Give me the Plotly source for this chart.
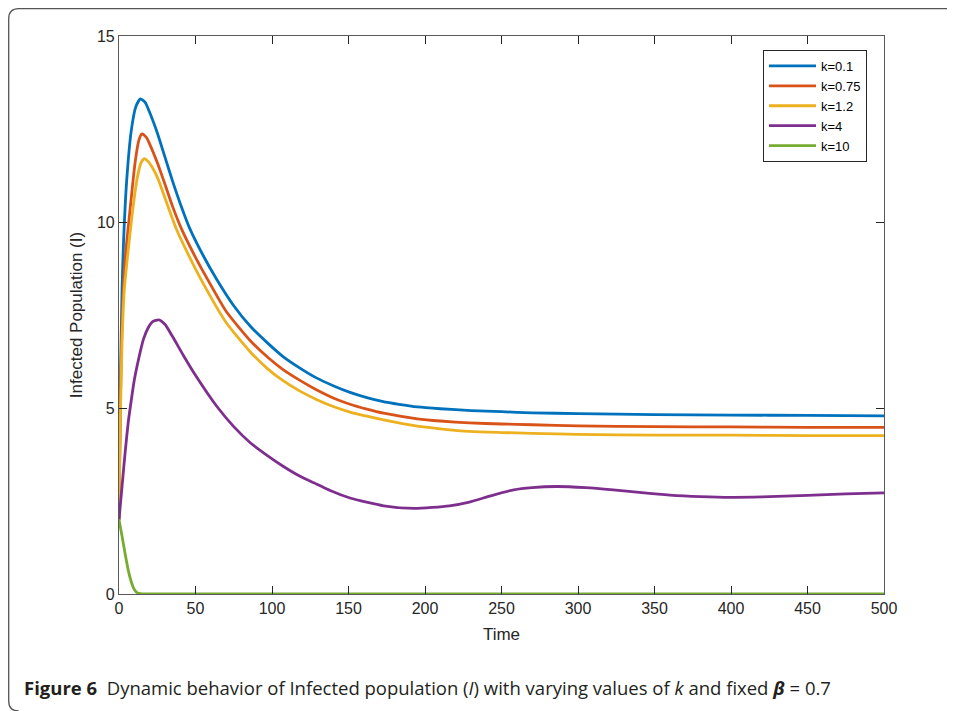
import plotly.graph_objects as go

# ---- data ----
t_blue = [0, 0.5, 1, 2, 3, 5, 8, 11, 14, 17, 20, 25, 30, 35, 40, 46, 55, 64, 75, 86, 97, 107,
          118, 129, 140, 151, 162, 172, 183, 195, 210, 230, 250, 270, 300, 350, 400, 450, 500]
I_blue = [2.0, 4.0, 5.8, 8.2, 9.5, 11.1, 12.45, 13.1, 13.31, 13.22, 12.95, 12.4, 11.75, 11.1, 10.5,
          9.85, 9.1, 8.45, 7.75, 7.19, 6.75, 6.39, 6.08, 5.81, 5.6, 5.42, 5.28, 5.18, 5.1, 5.03,
          4.98, 4.93, 4.9, 4.87, 4.85, 4.82, 4.81, 4.8, 4.79]

t_red = [0, 0.5, 1, 2, 4, 7, 10.5, 13, 15, 18, 20, 25, 29, 35, 41, 50, 58, 70, 86, 97, 107,
         118, 129, 140, 151, 162, 173, 195, 210, 229, 250, 270, 300, 350, 400, 450, 500]
I_red = [2.0, 3.8, 5.3, 7.3, 9.0, 10.24, 11.59, 12.2, 12.37, 12.27, 12.1, 11.6, 11.14, 10.42, 9.8,
         9.05, 8.45, 7.6, 6.8, 6.37, 6.04, 5.75, 5.49, 5.27, 5.1, 4.97, 4.86, 4.71, 4.65, 4.6,
         4.57, 4.55, 4.52, 4.5, 4.49, 4.48, 4.48]

t_yellow = [0, 0.5, 1, 2, 3.5, 5.4, 8.7, 12, 14.5, 16.6, 19, 22, 25.7, 30, 37.7, 45, 55, 70, 86,
            97, 107, 118, 129, 140, 151, 162, 173, 195, 210, 229, 250, 270, 300, 350, 400, 450, 500]
I_yellow = [2.0, 3.7, 5.0, 6.8, 8.2, 9.0, 10.24, 11.2, 11.6, 11.7, 11.63, 11.45, 11.14, 10.65, 9.79,
            9.15, 8.35, 7.3, 6.5, 6.06, 5.74, 5.46, 5.23, 5.04, 4.89, 4.78, 4.68, 4.51, 4.44,
            4.37, 4.34, 4.32, 4.29, 4.27, 4.27, 4.26, 4.26]

t_purple = [0, 2, 4, 6, 8, 10, 13, 16, 19, 22, 26, 30, 35, 42, 50, 64, 75, 86, 97, 107, 118, 129,
            138, 151, 173, 193, 216, 229, 243, 258, 270, 286, 305, 323, 340, 360, 380, 400, 420,
            450, 475, 500]
I_purple = [2.0, 2.9, 3.8, 4.6, 5.2, 5.75, 6.35, 6.85, 7.15, 7.32, 7.37, 7.25, 6.92, 6.42, 5.88,
            5.04, 4.5, 4.06, 3.72, 3.44, 3.17, 2.96, 2.78, 2.58, 2.37, 2.3, 2.37, 2.47, 2.64, 2.8,
            2.86, 2.89, 2.86, 2.8, 2.73, 2.66, 2.62, 2.6, 2.61, 2.65, 2.69, 2.72]

t_green = [0, 2, 4, 6, 8, 10, 12, 15, 20, 500]
I_green = [2.0, 1.55, 1.08, 0.65, 0.33, 0.12, 0.03, 0.005, 0.0, 0.0]

series = [
    ("k=0.1", t_blue, I_blue, "#0072BD"),
    ("k=0.75", t_red, I_red, "#D95319"),
    ("k=1.2", t_yellow, I_yellow, "#EDB120"),
    ("k=4", t_purple, I_purple, "#7E2F8E"),
    ("k=10", t_green, I_green, "#77AC30"),
]

x_ticks = list(range(0, 501, 50))
y_ticks = [0, 5, 10, 15]

caption = ("<b>Figure 6</b>  Dynamic behavior of Infected population (<i>I</i>) with varying "
           "values of <i>k</i> and fixed <b><i>β</i></b> = 0.7")

fig = go.Figure()
for name, t, v, c in series:
    fig.add_trace(go.Scatter(x=t, y=v, name=name, mode="lines",
                             line=dict(color=c, width=2.8, shape="spline", smoothing=0.6)))

axis_common = dict(showline=True, linecolor="#5a5a5a", linewidth=1.2, mirror="ticks",
                   ticks="inside", ticklen=8, tickcolor="#262626", tickwidth=1,
                   showgrid=False, zeroline=False,
                   tickfont=dict(family="Liberation Sans, Arial", size=16, color="#262626"),
                   title_font=dict(family="Liberation Sans, Arial", size=17, color="#262626"))

fig.update_xaxes(range=[0, 500], tickvals=x_ticks, title_text="Time", title_standoff=11,
                 **axis_common)
fig.update_yaxes(range=[0, 15], tickvals=y_ticks, title_text="Infected Population (I)",
                 title_standoff=9, **axis_common)

# the page body has an 8px margin, so the figure is placed at (8, 8) in the window
OFF = 8
W, H = 955 - OFF, 711 - OFF
PL, PR, PT, PB = 119, 884, 36, 594          # plot area in window pixels
L, T = PL - OFF, PT - OFF
R, B = W - (PR - OFF), H - (PB - OFF)
pw, ph = PR - PL, PB - PT

def px(x):
    return (x - PL) / pw

def py(y):
    return (PB - y) / ph

# rounded frame around the figure (top and left edges)
r = 10
fx, fy, fb = 8.7, 8.7, 711
path = (f"M {px(960)},{py(fy)} L {px(fx + r)},{py(fy)} Q {px(fx)},{py(fy)} {px(fx)},{py(fy + r)} "
        f"L {px(fx)},{py(fb - 10)} Q {px(fx)},{py(fb)} {px(fx + r)},{py(fb)}")
fig.add_shape(type="path", path=path, xref="paper", yref="paper",
              line=dict(color="#555555", width=1.3), layer="above")

fig.add_annotation(text=caption, xref="paper", yref="paper", x=px(22), y=py(687),
                   xanchor="left", yanchor="middle", showarrow=False,
                   font=dict(family="Open Sans, Noto Sans", size=18.5, color="#231f20"))

fig.update_layout(
    width=W, height=H, margin=dict(l=L, r=R, t=T, b=B),
    paper_bgcolor="white", plot_bgcolor="white",
    showlegend=True,
    legend=dict(x=px(763), y=py(50), xanchor="left", yanchor="top",
                bordercolor="#262626", borderwidth=1, bgcolor="white",
                font=dict(family="Liberation Sans, Arial", size=13, color="#000000"),
                tracegroupgap=0, itemwidth=47),
)

fig.write_html("out.html")
